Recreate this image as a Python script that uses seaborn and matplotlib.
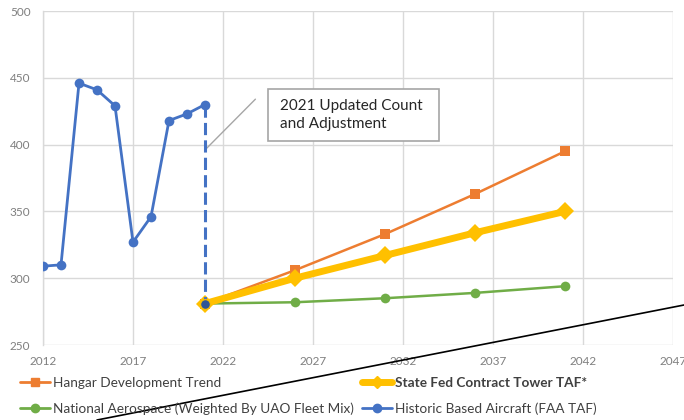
import seaborn as sns
import matplotlib.pyplot as plt
import matplotlib.lines as mlines
import matplotlib.patches as mpatches
import pandas as pd

# -----------------------------
# Data
# -----------------------------
hist_years = [2012, 2013, 2014, 2015, 2016, 2017, 2018, 2019, 2020, 2021]
hist_values = [309, 310, 446, 441, 429, 327, 346, 418, 423, 430]

proj_years = [2021, 2026, 2031, 2036, 2041]
hangar_trend = [281, 306, 333, 363, 395]
state_fed_taf = [281, 300, 317, 334, 350]
national_aero = [281, 282, 285, 289, 294]

adjust_years = [2021, 2021]
adjust_values = [430, 281]

labels = ["Hangar Development Trend", "State Fed Contract Tower TAF*",
          "National Aerospace (Weighted By UAO Fleet Mix)",
          "Historic Based Aircraft (FAA TAF)"]
note_text = "2021 Updated Count\nand Adjustment"

x_ticks = list(range(2012, 2048, 5))
y_ticks = list(range(250, 501, 50))

hist_df = pd.DataFrame({"Year": hist_years, "Aircraft": hist_values})
proj_df = pd.DataFrame({"Year": proj_years, "Hangar": hangar_trend,
                        "StateFed": state_fed_taf, "National": national_aero})
adj_df = pd.DataFrame({"Year": adjust_years, "Aircraft": adjust_values})

# -----------------------------
# Styling
# -----------------------------
sns.set_style("white")
plt.rcParams["font.family"] = ["Lato", "DejaVu Sans"]

BLUE = "#4472C4"
DARK_BLUE = "#2F5597"
ORANGE = "#ED7D31"
YELLOW = "#FFC000"
GREEN = "#70AD47"
GRID = "#D9D9D9"
TICK = "#7F7F7F"

fig = plt.figure(figsize=(6.84, 4.20), dpi=100)
ax = fig.add_axes([43 / 684, 75 / 420, 630 / 684, 334 / 420])

# historic series
sns.lineplot(data=hist_df, x="Year", y="Aircraft", ax=ax, color=BLUE,
             linewidth=2, marker="o", markersize=7, markeredgewidth=0, zorder=3)

# projections
sns.lineplot(data=proj_df, x="Year", y="Hangar", ax=ax, color=ORANGE,
             linewidth=1.8, marker="s", markersize=7, markeredgewidth=0, zorder=3)
sns.lineplot(data=proj_df, x="Year", y="National", ax=ax, color=GREEN,
             linewidth=1.8, marker="o", markersize=7, markeredgewidth=0, zorder=3)
sns.lineplot(data=proj_df, x="Year", y="StateFed", ax=ax, color=YELLOW,
             linewidth=5, marker="D", markersize=9, markeredgewidth=0, zorder=4)

# 2021 adjustment (dashed drop)
sns.lineplot(data=adj_df, x="Year", y="Aircraft", ax=ax, color=BLUE,
             linewidth=2.2, estimator=None, sort=False, zorder=5)
ax.lines[-1].set_linestyle((0, (4, 1.7)))
ax.plot(adjust_years[-1:], adjust_values[-1:], marker="o", markersize=7,
        color=DARK_BLUE, markeredgecolor=YELLOW, markeredgewidth=0.8,
        linestyle="none", zorder=6)

# callout: leader line, box and text
ax.annotate("", xy=(2021, 396), xytext=(2023.8, 434),
            arrowprops=dict(arrowstyle="-", color="#A6A6A6", lw=1,
                            shrinkA=0, shrinkB=0))
ax.add_patch(mpatches.Rectangle((2024.5, 402.7), 9.5, 38.9, fc="white",
                                ec="#A6A6A6", lw=1.2, zorder=6))
ax.text(2025.15, 422.2, note_text, fontsize=11, color="#262626",
        va="center", ha="left", linespacing=1.3, zorder=7)

# axes
ax.set_xlim(2012, 2047)
ax.set_ylim(250, 500)
ax.set_xticks(x_ticks)
ax.set_yticks(y_ticks)
ax.set_xlabel("")
ax.set_ylabel("")
ax.grid(True, color=GRID, linewidth=1)
ax.set_axisbelow(True)
for side in ["top", "right", "bottom"]:
    ax.spines[side].set_visible(False)
ax.spines["left"].set_color(GRID)
ax.spines["left"].set_linewidth(1)
ax.tick_params(axis="both", length=0, labelsize=8.5, labelcolor=TICK)
ax.tick_params(axis="x", pad=8)
ax.tick_params(axis="y", pad=9)

# legend (filled column-wise)
handles = [
    mlines.Line2D([], [], color=ORANGE, lw=2, marker="s", markersize=6),
    mlines.Line2D([], [], color=GREEN, lw=2, marker="o", markersize=6),
    mlines.Line2D([], [], color=YELLOW, lw=5, marker="D", markersize=6),
    mlines.Line2D([], [], color=BLUE, lw=2, marker="o", markersize=6),
]
leg_labels = [labels[0], labels[2], labels[1], labels[3]]
leg = fig.legend(handles, leg_labels, loc="lower left",
                 bbox_to_anchor=(8 / 684, -0.017), ncol=2, frameon=False,
                 fontsize=9.8, handlelength=2.2, handletextpad=0.2,
                 columnspacing=0.6, labelspacing=1.0, labelcolor="#404040")
leg.get_texts()[2].set_fontweight("bold")

# stray drawing line across the bottom of the image
fig.add_artist(mlines.Line2D([97 / 684, 1.0], [0.0, 1 - 305 / 420],
                             transform=fig.transFigure, color="black", lw=1.2))

fig.savefig("out.png", dpi=100)
plt.close(fig)
